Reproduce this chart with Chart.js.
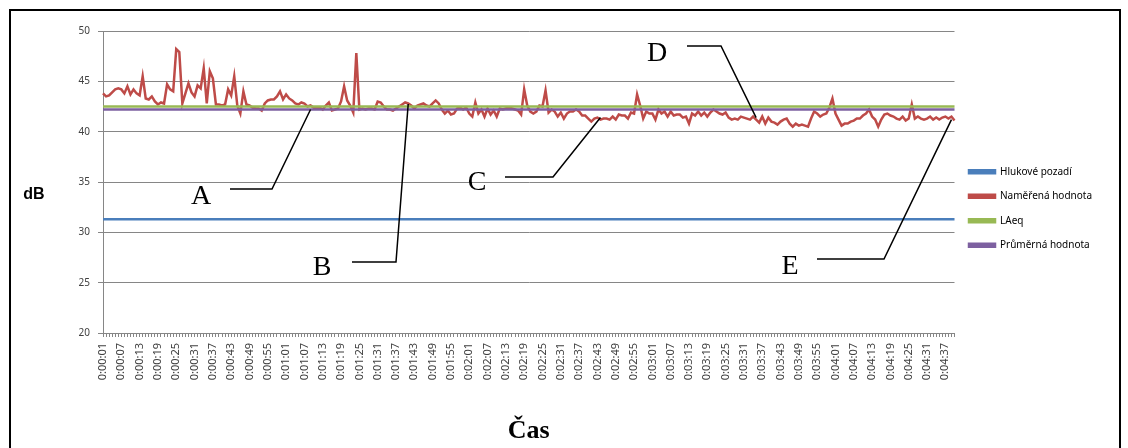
<!DOCTYPE html>
<html>
<head>
<meta charset="utf-8">
<script src="https://cdn.jsdelivr.net/npm/chart.js@4.4.1/dist/chart.umd.min.js"></script>
<style>
  html, body { margin: 0; padding: 0; background: #fff; overflow: hidden; }
  #ramecek { position: absolute; left: 9px; top: 9px; width: 1108px; height: 500px; border: 2px solid #000; }
  #graf { position: absolute; left: 0; top: 0; }
</style>
</head>
<body>
<div id="ramecek"></div>
<canvas id="graf" width="1128" height="448"></canvas>
<script>
// casova osa 0:00:01 .. 0:04:40, hodnota kazdou sekundu
var casy = [];
for (var s = 1; s <= 280; s++) {
    var m = Math.floor(s / 60), sec = s % 60;
    casy.push('0:0' + m + ':' + (sec < 10 ? '0' : '') + sec);
}

var namereno = [
    43.8, 43.5, 43.6, 43.9, 44.2, 44.3, 44.2, 43.8, 44.5, 43.7,
    44.2, 43.8, 43.6, 45.5, 43.3, 43.2, 43.5, 43.0, 42.7, 42.9,
    42.8, 44.7, 44.2, 44.0, 48.2, 47.9, 42.8, 43.8, 44.8, 43.9,
    43.5, 44.6, 44.3, 46.3, 42.8, 46.0, 45.3, 42.7, 42.7, 42.6,
    42.7, 44.2, 43.6, 45.5, 42.6, 41.8, 44.0, 42.7, 42.6, 42.4,
    42.3, 42.3, 42.1, 42.8, 43.1, 43.2, 43.2, 43.5, 44.0, 43.2,
    43.7, 43.3, 43.1, 42.8, 42.7, 42.9, 42.8, 42.5, 42.6, 42.4,
    42.3, 42.4, 42.2, 42.6, 42.9, 42.1, 42.2, 42.3, 43.0, 44.5,
    43.1, 42.6, 41.9, 47.8, 42.2, 42.3, 42.2, 42.3, 42.3, 42.2,
    43.0, 42.9, 42.5, 42.2, 42.2, 42.1, 42.3, 42.5, 42.7, 42.9,
    42.8, 42.6, 42.3, 42.6, 42.7, 42.8, 42.6, 42.5, 42.8, 43.1,
    42.8, 42.2, 41.8, 42.1, 41.7, 41.8, 42.3, 42.4, 42.2, 42.4,
    41.8, 41.5, 42.9, 41.8, 42.2, 41.5, 42.3, 41.7, 42.1, 41.5,
    42.3, 42.2, 42.3, 42.4, 42.3, 42.2, 42.1, 41.7, 44.2, 42.6,
    42.0, 41.8, 42.0, 42.6, 42.5, 44.1, 41.9, 42.2, 42.0, 41.5,
    41.9, 41.3, 41.8, 42.0, 42.0, 42.2, 42.0, 41.6, 41.6, 41.3,
    41.0, 41.3, 41.4, 41.2, 41.3, 41.3, 41.2, 41.5, 41.2, 41.7,
    41.6, 41.6, 41.3, 41.9, 41.8, 43.7, 42.6, 41.3, 42.0, 41.8,
    41.8, 41.2, 42.2, 41.8, 42.0, 41.5, 42.0, 41.6, 41.7, 41.7,
    41.4, 41.5, 40.8, 41.8, 41.6, 42.0, 41.6, 41.9, 41.5, 41.9,
    42.2, 42.0, 41.8, 41.7, 41.9, 41.4, 41.2, 41.3, 41.2, 41.5,
    41.4, 41.3, 41.2, 41.5, 41.2, 40.9, 41.5, 40.8, 41.4, 41.0,
    40.9, 40.7, 41.0, 41.2, 41.3, 40.8, 40.5, 40.8, 40.6, 40.7,
    40.6, 40.5, 41.3, 42.0, 41.8, 41.5, 41.7, 41.8, 42.4, 43.3,
    41.8, 41.2, 40.6, 40.8, 40.8, 41.0, 41.1, 41.3, 41.3, 41.6,
    41.8, 42.2, 41.5, 41.2, 40.5, 41.2, 41.7, 41.8, 41.6, 41.5,
    41.3, 41.2, 41.5, 41.1, 41.3, 42.7, 41.3, 41.5, 41.3, 41.2,
    41.3, 41.5, 41.2, 41.4, 41.2, 41.4, 41.5, 41.3, 41.5, 41.1
];

// konstantni urovne
var pozadi = 31.3;
var laeq = 42.5;
var prumer = 42.2;

var osaY = [20, 25, 30, 35, 40, 45, 50];

function konst(v) {
    return casy.map(function () { return v; });
}

// popisky A-E: hrot v datech (index, dB), pismeno a lom car v pixelech
var popisky = [
    { pismeno: 'A', idx: 68, db: 42.2, txt: [201, 197], lom: [[230, 189], [272, 189]] },
    { pismeno: 'B', idx: 100, db: 42.75, txt: [322, 268], lom: [[352, 262], [396, 262]] },
    { pismeno: 'C', idx: 163, db: 41.4, txt: [477, 183], lom: [[505, 177], [553, 177]] },
    { pismeno: 'D', idx: 214, db: 41.4, txt: [657, 54], lom: [[687, 46], [721, 46]] },
    { pismeno: 'E', idx: 278, db: 41.2, txt: [790, 267], lom: [[817, 259], [884, 259]] }
];

var popiskyPlugin = {
    id: 'popisky',
    afterDraw: function (chart) {
        var c = chart.ctx;
        var sx = chart.scales.x, sy = chart.scales.y;
        c.save();
        // nazev osy Y
        c.fillStyle = '#000';
        c.font = 'bold 16px "Liberation Sans"';
        c.textAlign = 'center';
        c.textBaseline = 'middle';
        c.fillText('dB', 34, 195);

        c.strokeStyle = '#000';
        c.lineWidth = 1.5;
        c.font = '28px "Liberation Serif"';
        popisky.forEach(function (p) {
            c.beginPath();
            c.moveTo(p.lom[0][0], p.lom[0][1]);
            c.lineTo(p.lom[1][0], p.lom[1][1]);
            c.lineTo(sx.getPixelForValue(p.idx), sy.getPixelForValue(p.db));
            c.stroke();
            c.fillText(p.pismeno, p.txt[0], p.txt[1]);
        });
        c.restore();
    }
};

var ctx = document.getElementById('graf');

var chart = new Chart(ctx, {
    type: 'line',
    data: {
        labels: casy,
        datasets: [{
            label: 'Hlukové pozadí',
            data: konst(pozadi),
            borderColor: '#4A7EBB',
            backgroundColor: '#4A7EBB',
            order: 4
        }, {
            label: 'Naměřená hodnota',
            data: namereno,
            borderColor: '#BE4B48',
            backgroundColor: '#BE4B48',
            order: 3
        }, {
            label: 'LAeq',
            data: konst(laeq),
            borderColor: '#98B954',
            backgroundColor: '#98B954',
            order: 2
        }, {
            label: 'Průměrná hodnota',
            data: konst(prumer),
            borderColor: '#7D60A0',
            backgroundColor: '#7D60A0',
            order: 1
        }]
    },
    options: {
        responsive: false,
        animation: false,
        elements: {
            line: { borderWidth: 2.5, tension: 0 },
            point: { radius: 0 }
        },
        layout: { padding: { left: 10, top: 31, right: 26, bottom: 0 } },
        plugins: {
            tooltip: { enabled: false },
            legend: {
                position: 'right',
                fullSize: false,
                title: { display: true, text: ' ', font: { size: 1 }, padding: { top: 0, bottom: 52 } },
                labels: {
                    boxWidth: 26,
                    boxHeight: 3,
                    padding: 14.5,
                    color: '#000',
                    font: { family: 'Noto Sans', size: 10 },
                    sort: function (a, b) { return a.datasetIndex - b.datasetIndex; }
                }
            }
        },
        scales: {
            x: {
                grid: { drawOnChartArea: false, tickLength: 4, color: '#868686' },
                border: { color: '#868686' },
                ticks: {
                    autoSkip: false,
                    minRotation: 90,
                    maxRotation: 90,
                    padding: 6,
                    color: '#404040',
                    font: { family: 'Noto Sans', size: 11 },
                    callback: function (val, i) {
                        return i % 6 === 0 ? this.getLabelForValue(val) : '';
                    }
                },
                title: {
                    display: true,
                    text: 'Čas',
                    color: '#000',
                    font: { family: 'Liberation Serif', weight: 'bold', size: 26 },
                    padding: { top: 0, bottom: 1 }
                },
                afterFit: function (s) { s.height = 115; }
            },
            y: {
                min: osaY[0],
                max: osaY[osaY.length - 1],
                afterBuildTicks: function (s) {
                    s.ticks = osaY.map(function (v) { return { value: v }; });
                },
                grid: { color: '#868686', tickLength: 5 },
                border: { color: '#868686' },
                ticks: {
                    padding: 8,
                    color: '#404040',
                    font: { family: 'Noto Sans', size: 10 }
                },
                afterFit: function (s) { s.width = 93; }
            }
        }
    },
    plugins: [popiskyPlugin]
});
</script>
</body>
</html>
